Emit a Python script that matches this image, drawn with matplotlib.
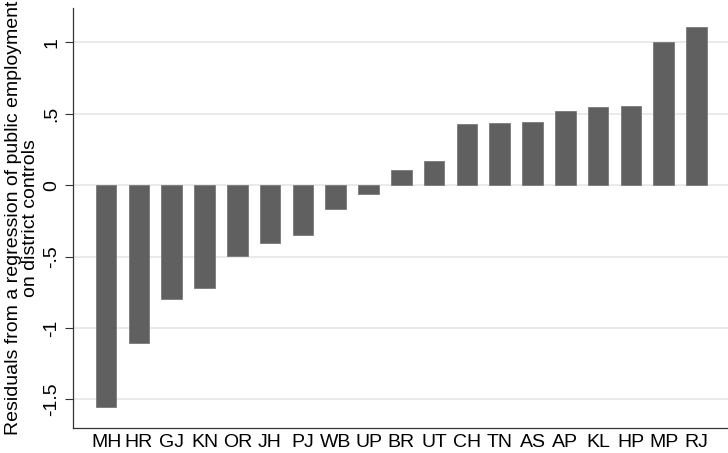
import numpy as np
import matplotlib.pyplot as plt

plt.rcParams['font.family'] = ['Liberation Sans', 'DejaVu Sans']

states = ['MH', 'HR', 'GJ', 'KN', 'OR', 'JH', 'PJ', 'WB', 'UP', 'BR',
          'UT', 'CH', 'TN', 'AS', 'AP', 'KL', 'HP', 'MP', 'RJ']
resid = [-1.553, -1.104, -0.80, -0.723, -0.494, -0.406, -0.35, -0.165, -0.06, 0.105,
         0.168, 0.431, 0.434, 0.441, 0.517, 0.550, 0.557, 1.002, 1.105]
yticks = [-1.5, -1, -0.5, 0, 0.5, 1]
yticklabels = ['-1.5', '-1', '-.5', '0', '.5', '1']

fig = plt.figure(figsize=(7.28, 4.53), dpi=100)
ax = fig.add_axes([73 / 728, 25 / 453, 655 / 728, 420 / 453])

x = np.arange(len(states))
ax.bar(x, resid, width=0.63, color='#606060', edgecolor='#7a7a7a', linewidth=0.6, zorder=3)

ax.set_xlim(-1.01, 18.96)
ax.set_ylim(-1.70, 1.24)
ax.set_yticks(yticks)
ax.set_yticklabels(yticklabels, rotation=90, va='center')
ax.set_xticks(x)
ax.set_xticklabels(states)
ax.tick_params(axis='x', length=0, labelsize=14, pad=4)
ax.tick_params(axis='y', length=6, width=0.8, labelsize=14, pad=3, color='#333333')
ax.yaxis.grid(True, color='#e6e6e6', linewidth=1.2, zorder=0)
ax.set_axisbelow(True)

for s in ['top', 'right']:
    ax.spines[s].set_visible(False)
for s in ['left', 'bottom']:
    ax.spines[s].set_color('#333333')
    ax.spines[s].set_linewidth(0.9)

ax.set_ylabel('Residuals from a regression of public employment\non district controls',
              fontsize=14, linespacing=1.05, labelpad=3)

fig.savefig('out.png', dpi=100)
